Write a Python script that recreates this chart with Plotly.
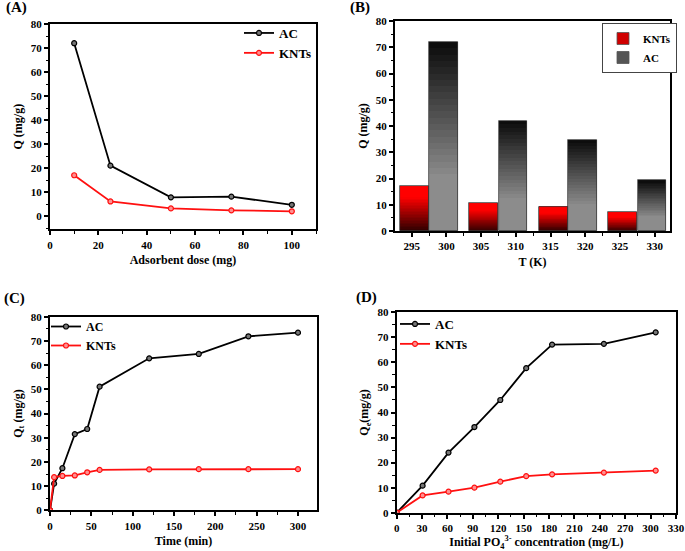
import plotly.graph_objects as go

W, H = 685, 551

# ---------------- data ----------------
dose = [10, 25, 50, 75, 100]
dose_ac = [72, 21, 7.8, 8.1, 4.7]
dose_knt = [17, 6.1, 3.2, 2.4, 2.0]

temp_knt = [295, 305, 315, 325]
temp_ac = [300, 310, 320, 330]
q_knt_T = [17, 10.5, 9.2, 7.1]
q_ac_T = [72, 42, 34.8, 19.3]
temp_ticks = [295, 300, 305, 310, 315, 320, 325, 330]

time_min = [0, 5, 15, 30, 45, 60, 120, 180, 240, 300]
qt_ac = [0, 11, 17.4, 31.5, 33.6, 51.1, 62.8, 64.6, 71.9, 73.4]
qt_knt = [0, 13.7, 14.2, 14.4, 15.7, 16.7, 16.9, 17.0, 17.0, 17.0]

conc = [0, 30.6, 61.2, 91.8, 122.4, 153, 183.6, 244.8, 306]
qe_ac = [0, 10.8, 24, 34.2, 45, 57.7, 67.1, 67.4, 72]
qe_knt = [0, 6.9, 8.4, 10.0, 12.4, 14.6, 15.3, 16.0, 16.8]

FONT = "Liberation Serif"

def dom_x(a, b):
    return [a / W, b / W]

def dom_y(top, bottom):
    return [1 - bottom / H, 1 - top / H]

fig = go.Figure()

def line_trace(x, y, name, color, fill, xa, ya, lg):
    return go.Scatter(
        x=x, y=y, name=name, mode="lines+markers",
        line=dict(color=color, width=1.8),
        marker=dict(symbol="circle", size=5, color=fill, line=dict(color=color, width=1.2)),
        xaxis=xa, yaxis=ya, legend=lg,
    )

BLACK = "#000000"
RED = "#ff1010"
BFILL = "#777777"
RFILL = "#ff9090"

# Panel A
fig.add_trace(line_trace(dose, dose_ac, "AC", BLACK, BFILL, "x", "y", "legend"))
fig.add_trace(line_trace(dose, dose_knt, "KNTs", RED, RFILL, "x", "y", "legend"))

# Panel B : gradient bars built from stacked slices of each value
N = 30
w = 4.15

def lerp(c1, c2, t):
    return "rgb(%d,%d,%d)" % tuple(round(c1[i] + (c2[i] - c1[i]) * t) for i in range(3))

knt_bot, knt_top = (40, 0, 0), (255, 0, 0)
ac_bot, ac_top = (140, 140, 140), (10, 10, 10)

for k in range(N):
    t = (k + 0.5) / N
    fig.add_trace(go.Bar(
        x=temp_knt, y=[v / N for v in q_knt_T], base=[v * k / N for v in q_knt_T],
        width=w, offset=0.4 - w / 2,
        marker=dict(color=lerp(knt_bot, knt_top, min(1, t * 1.3)), line=dict(width=0)),
        name="KNTs", showlegend=False, xaxis="x2", yaxis="y2", hoverinfo="skip",
    ))
for k in range(N):
    t = (k + 0.5) / N
    fig.add_trace(go.Bar(
        x=temp_ac, y=[v / N for v in q_ac_T], base=[v * k / N for v in q_ac_T],
        width=w, offset=-0.4 - w / 2,
        marker=dict(color=lerp(ac_bot, ac_top, max(0, t * 1.4 - 0.4)), line=dict(width=0)),
        name="AC", showlegend=False, xaxis="x2", yaxis="y2", hoverinfo="skip",
    ))
# outlines
fig.add_trace(go.Bar(x=temp_knt, y=q_knt_T, width=w, offset=0.4 - w / 2,
                     marker=dict(color="rgba(0,0,0,0)", line=dict(color="#3a3a3a", width=0.8)),
                     showlegend=False, xaxis="x2", yaxis="y2"))
fig.add_trace(go.Bar(x=temp_ac, y=q_ac_T, width=w, offset=-0.4 - w / 2,
                     marker=dict(color="rgba(0,0,0,0)", line=dict(color="#3a3a3a", width=0.8)),
                     showlegend=False, xaxis="x2", yaxis="y2"))
# legend entries
fig.add_trace(go.Bar(x=[None], y=[None], name="KNTs", xaxis="x2", yaxis="y2", legend="legend2",
                     marker=dict(color="#d00000", line=dict(color="#555", width=0.8))))
fig.add_trace(go.Bar(x=[None], y=[None], name="AC", xaxis="x2", yaxis="y2", legend="legend2",
                     marker=dict(color="#555555", line=dict(color="#555", width=0.8))))

# Panel C
fig.add_trace(line_trace(time_min, qt_ac, "AC", BLACK, BFILL, "x3", "y3", "legend3"))
fig.add_trace(line_trace(time_min, qt_knt, "KNTs", RED, RFILL, "x3", "y3", "legend3"))

# Panel D
fig.add_trace(line_trace(conc, qe_ac, "AC", BLACK, BFILL, "x4", "y4", "legend4"))
fig.add_trace(line_trace(conc, qe_knt, "KNTs", RED, RFILL, "x4", "y4", "legend4"))

tickfont = dict(family=FONT, size=11, color="black", weight="bold")
titlefont = dict(family=FONT, size=12, color="black", weight="bold")

def axis(domain, rng, dtick, minor_dtick, title, anchor, standoff=6, **kw):
    d = dict(
        domain=domain, range=rng, dtick=dtick, tick0=0,
        showline=True, linecolor="black", linewidth=2, mirror=True,
        ticks="outside", ticklen=4, tickwidth=1.5, tickcolor="black",
        minor=dict(ticks="outside", ticklen=2.5, tickwidth=1.2, dtick=minor_dtick, tickcolor="black"),
        showgrid=False, zeroline=False, tickfont=tickfont,
        title=dict(text=title, font=titlefont, standoff=standoff),
        anchor=anchor, automargin=False,
    )
    d.update(kw)
    return d

fig.update_layout(
    width=W, height=H, margin=dict(l=0, r=0, t=0, b=0),
    paper_bgcolor="white", plot_bgcolor="white",
    barmode="overlay", bargap=0,
    font=dict(family=FONT, color="black", weight="bold"),
    xaxis=axis(dom_x(50, 316), [0, 110], 20, 10, "Adsorbent dose (mg)", "y"),
    yaxis=axis(dom_y(24, 229.3), [-5.5, 80], 10, 5, "Q (mg/g)", "x"),
    xaxis2=axis(dom_x(395, 670), [292.6, 332.2], 5, 2.5, "T (K)", "y2", tick0=295,
                tickvals=temp_ticks),
    yaxis2=axis(dom_y(21, 231), [0, 80], 10, 5, "Q (mg/g)", "x2"),
    xaxis3=axis(dom_x(50, 317), [0, 323], 50, 25, "Time (min)", "y3"),
    yaxis3=axis(dom_y(316.7, 510.3), [0, 80], 10, 5, "Q<sub>t</sub> (mg/g)", "x3"),
    xaxis4=axis(dom_x(396.7, 676), [0, 330], 30, 15,
                "Initial PO<sub>4</sub><sup>3-</sup> concentration (mg/L)", "y4"),
    yaxis4=axis(dom_y(312.3, 512.7), [0, 80], 10, 5, "Q<sub>e</sub>(mg/g)", "x4"),
    legend=dict(x=239 / W, y=1 - 18 / H, xanchor="left", yanchor="top",
                bgcolor="rgba(0,0,0,0)", font=dict(family=FONT, size=13, weight="bold"),
                tracegroupgap=0, itemwidth=30),
    legend2=dict(x=602 / W, y=1 - 23 / H, xanchor="left", yanchor="top",
                 bgcolor="white", bordercolor="#444", borderwidth=1,
                 font=dict(family=FONT, size=11, weight="bold"), itemwidth=30),
    legend3=dict(x=46 / W, y=1 - 312 / H, xanchor="left", yanchor="top",
                 bgcolor="rgba(0,0,0,0)", font=dict(family=FONT, size=12, weight="bold"),
                 itemwidth=30),
    legend4=dict(x=395 / W, y=1 - 309 / H, xanchor="left", yanchor="top",
                 bgcolor="rgba(0,0,0,0)", font=dict(family=FONT, size=13, weight="bold"),
                 itemwidth=30),
    showlegend=True,
)

for txt, x, y in [("(A)", 4, 8), ("(B)", 348, 8), ("(C)", 2, 298), ("(D)", 354, 297)]:
    fig.add_annotation(text=txt, x=x / W, y=1 - y / H, xref="paper", yref="paper",
                       xanchor="left", yanchor="middle", showarrow=False,
                       font=dict(family=FONT, size=15, color="black", weight="bold"))

fig.write_html("out.html", config={"displayModeBar": False},
               post_script="document.body.style.margin='0';document.body.style.overflow='hidden';")
